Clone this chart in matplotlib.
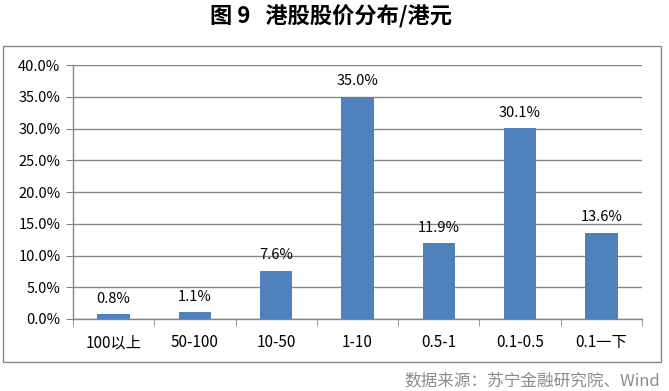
import numpy as np
import matplotlib
import matplotlib.pyplot as plt
from matplotlib.patches import Rectangle

matplotlib.use("Agg")

plt.rcParams["font.family"] = ["Noto Sans CJK SC", "DejaVu Sans"]

# data
categories = ["100以上", "50-100", "10-50", "1-10", "0.5-1", "0.1-0.5", "0.1一下"]
shares = [0.8, 1.1, 7.6, 35.0, 11.9, 30.1, 13.6]
yticks = [0, 5, 10, 15, 20, 25, 30, 35, 40]

W, H = 669, 391
fig = plt.figure(figsize=(W / 100, H / 100), dpi=100)

# axes placed in pixel coords
left, right, top, bottom = 73, 642, 65, 319
ax = fig.add_axes([left / W, 1 - bottom / H, (right - left) / W, (bottom - top) / H])

grey = "#868686"
x = np.arange(len(categories))
ax.bar(x, shares, width=0.4, color="#4F81BD", zorder=3)

# value labels
for xi, v in zip(x, shares):
    ax.annotate(f"{v:.1f}%", (xi, v), xytext=(0, 6), textcoords="offset points",
                ha="center", va="bottom", fontsize=10.5, color="#000000")

# y axis
ax.set_ylim(0, 40)
ax.set_yticks(yticks)
ax.set_yticklabels([f"{t:.1f}%" for t in yticks])
ax.grid(axis="y", color=grey, linewidth=1, zorder=0)
ax.tick_params(axis="y", length=5, color=grey, labelsize=10.5, pad=4)

# x axis: labels at centres, ticks at boundaries
ax.set_xlim(-0.5, len(categories) - 0.5)
ax.set_xticks(x)
ax.set_xticklabels(categories)
ax.set_xticks(np.arange(-0.5, len(categories)), minor=True)
ax.tick_params(axis="x", which="major", length=0, labelsize=11, pad=11)
ax.tick_params(axis="x", which="minor", length=5, color=grey)

for s in ["top", "right"]:
    ax.spines[s].set_visible(False)
for s in ["left", "bottom"]:
    ax.spines[s].set_color(grey)
    ax.spines[s].set_linewidth(1)

# outer chart frame
fig.patches.append(Rectangle((3 / W, 1 - 362 / H), (661 - 3) / W, (362 - 46) / H,
                             transform=fig.transFigure, fill=False,
                             edgecolor=grey, linewidth=1))

# title and source
fig.text(331 / W, 1 - 17 / H, "图 9   港股股价分布/港元", ha="center", va="center",
         fontsize=16, fontweight="bold")
fig.text(660 / W, 1 - 381 / H, "数据来源：苏宁金融研究院、Wind", ha="right", va="center",
         fontsize=12, color="#8c8c8c", style="italic")

plt.savefig("out.png", dpi=100)
plt.close()
